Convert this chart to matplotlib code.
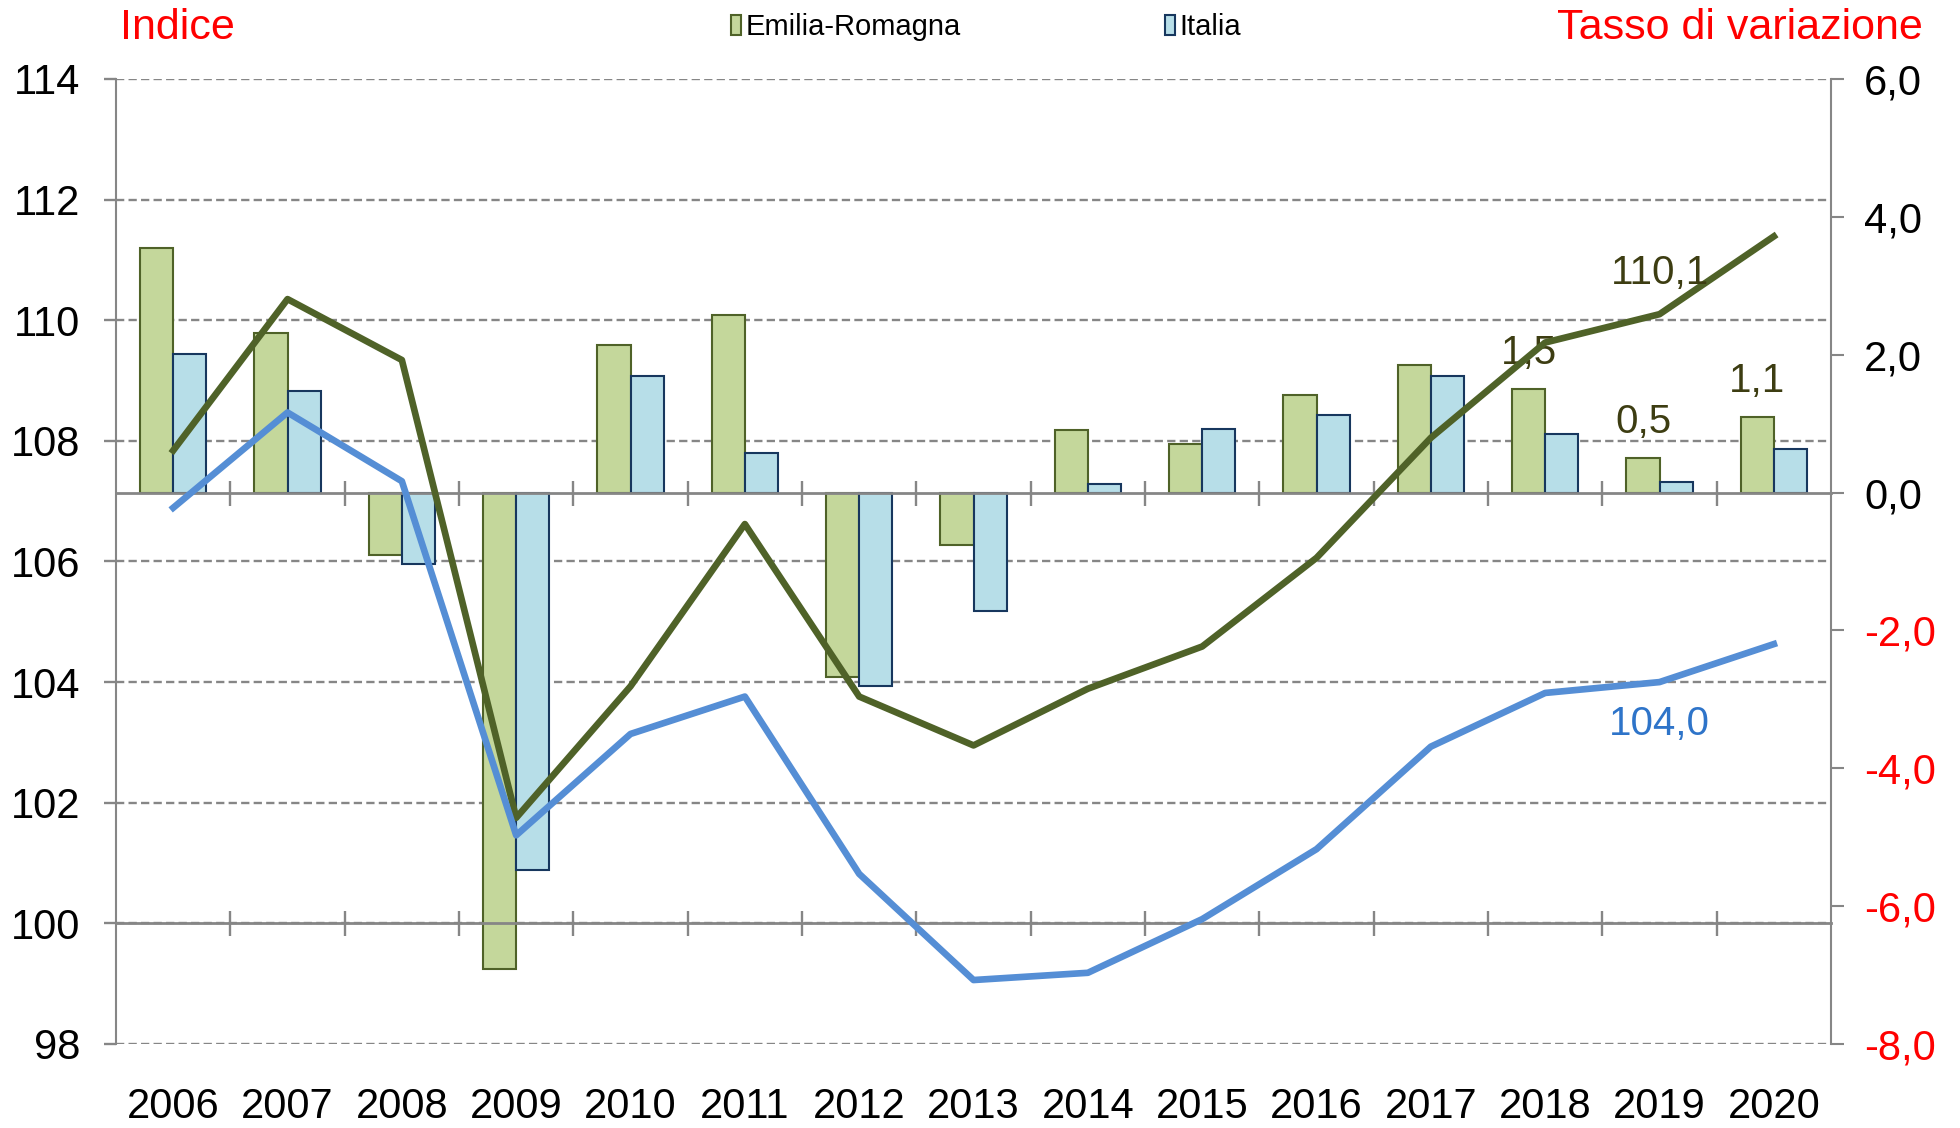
import numpy as np
import matplotlib
matplotlib.use("Agg")
import matplotlib.pyplot as plt
from matplotlib.patches import Patch
from matplotlib.ticker import FuncFormatter

plt.rcParams['font.family'] = ['Liberation Sans', 'DejaVu Sans']

# dati
anni = [str(a) for a in range(2006, 2021)]
# indice (scala sinistra)
indice_er = [107.84, 110.35, 109.34, 101.75, 103.93, 106.62, 103.76, 102.95,
             103.89, 104.59, 106.06, 108.05, 109.63, 110.1, 111.39]
indice_it = [106.89, 108.47, 107.33, 101.46, 103.14, 103.76, 100.82, 99.06,
             99.18, 100.07, 101.23, 102.93, 103.82, 104.0, 104.63]
# tasso di variazione (scala destra)
var_er = [3.55, 2.32, -0.91, -6.91, 2.14, 2.58, -2.67, -0.76,
          0.91, 0.71, 1.41, 1.85, 1.5, 0.5, 1.1]
var_it = [2.01, 1.47, -1.03, -5.48, 1.69, 0.58, -2.81, -1.72,
          0.13, 0.92, 1.12, 1.69, 0.85, 0.15, 0.63]

verde_bar, verde_bordo = '#c4d79b', '#4f6228'
azzurro_bar, azzurro_bordo = '#b7dee8', '#17375e'
verde_linea, blu_linea = '#4f6228', '#558ed5'
grigio = '#868686'

def virgola(v, pos=None):
    return f"{v:.1f}".replace('.', ',')

x = np.arange(len(anni))

fig = plt.figure(figsize=(19.6, 11.28), dpi=100)
ax = fig.add_axes([0.0592, 0.0745, 0.875, 0.8555])  # griglia + asse sinistro
ax2 = ax.twinx()  # barre, asse destro
ax3 = ax.twinx()  # linee, scala sinistra

# --- asse sinistro / griglia
ax.set_xlim(-0.5, len(anni) - 0.5)
ax.set_ylim(98, 114)
ax.set_yticks(range(98, 115, 2))
ax.yaxis.grid(True, ls=(0, (3.5, 1.8)), color=grigio, lw=1.7)
ax.set_axisbelow(True)
for s in ['top', 'right', 'bottom']:
    ax.spines[s].set_visible(False)
ax.spines['left'].set_color(grigio)
ax.spines['left'].set_linewidth(1.5)
ax.tick_params(axis='y', length=9, width=1.7, color=grigio, labelsize=30, pad=17)
ax.set_xticks(x, anni)
ax.set_xticks(np.arange(0.5, len(anni) - 1, 1), minor=True)
ax.tick_params(axis='x', which='both', length=0, labelsize=30, pad=31)

# --- barre
w = 0.29
ax2.bar(x - w / 2, var_er, w, color=verde_bar, edgecolor=verde_bordo, lw=1.5)
ax2.bar(x + w / 2, var_it, w, color=azzurro_bar, edgecolor=azzurro_bordo, lw=1.5)
ax2.set_ylim(-8, 6)
ax2.set_yticks(range(-8, 7, 2))
ax2.yaxis.set_major_formatter(FuncFormatter(virgola))
ax2.tick_params(axis='y', length=9, width=1.5, color=grigio, labelsize=30, pad=15)
for lab, v in zip(ax2.get_yticklabels(), range(-8, 7, 2)):
    lab.set_color('red' if v < 0 else 'black')
for s in ['top', 'left']:
    ax2.spines[s].set_visible(False)
ax2.spines['right'].set_color(grigio)
ax2.spines['right'].set_linewidth(1.5)
ax2.spines['bottom'].set_position(('data', 0))
ax2.spines['bottom'].set_color(grigio)
ax2.spines['bottom'].set_linewidth(2)
ax2.xaxis.set_visible(True)
ax2.tick_params(axis='x', which='major', length=0, labelbottom=False)
ax2.tick_params(axis='x', which='minor', length=18, width=1.7, color=grigio, direction='inout')
for i in [12, 13, 14]:
    ax2.annotate(virgola(var_er[i]), (x[i] - w / 2, var_er[i]), xytext=(0, 26),
                 textcoords='offset points', ha='center', va='center',
                 fontsize=29, color='#3d3d12')

# --- linee
ax3.set_ylim(98, 114)
ax3.plot(x, indice_er, color=verde_linea, lw=4.8, zorder=3)
ax3.plot(x, indice_it, color=blu_linea, lw=4.8, zorder=3)
for s in ['top', 'left', 'right']:
    ax3.spines[s].set_visible(False)
ax3.spines['bottom'].set_position(('data', 100))
ax3.spines['bottom'].set_color(grigio)
ax3.spines['bottom'].set_linewidth(2)
ax3.tick_params(axis='y', right=False, labelright=False)
ax3.xaxis.set_visible(True)
ax3.tick_params(axis='x', which='major', length=0, labelbottom=False)
ax3.tick_params(axis='x', which='minor', length=18, width=1.7, color=grigio, direction='inout')
ax3.annotate(virgola(indice_er[13]), (x[13], indice_er[13]), xytext=(0, 30),
             textcoords='offset points', ha='center', va='center',
             fontsize=29, color='#3d3d12')
ax3.annotate(virgola(indice_it[13]), (x[13], indice_it[13]), xytext=(0, -30),
             textcoords='offset points', ha='center', va='center',
             fontsize=29, color='#2e74c9')

# --- titoli assi e legenda
fig.text(0.061, 0.975, 'Indice', color='red', fontsize=31, ha='left', va='center')
fig.text(0.981, 0.975, 'Tasso di variazione', color='red', fontsize=31, ha='right', va='center')
handles = [Patch(facecolor=verde_bar, edgecolor=verde_bordo, lw=1.5, label='Emilia-Romagna'),
           Patch(facecolor=azzurro_bar, edgecolor=azzurro_bordo, lw=1.5, label='Italia')]
fig.legend(handles=handles, loc='center', bbox_to_anchor=(0.503, 0.976), ncol=2,
           frameon=False, fontsize=21, handlelength=0.35, handleheight=0.7,
           handletextpad=0.15, columnspacing=7)

fig.savefig('out.png', dpi=100)
